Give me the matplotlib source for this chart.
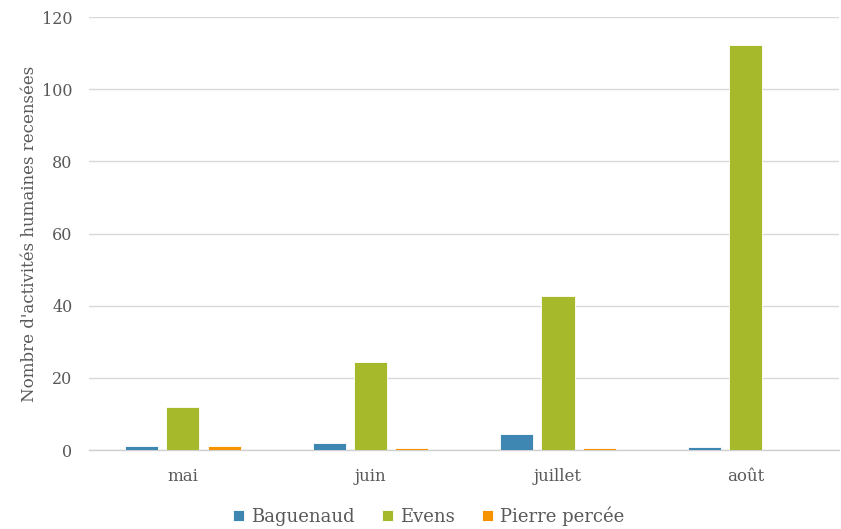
import matplotlib
matplotlib.use("Agg")
import matplotlib.pyplot as plt
import numpy as np

months = ["mai", "juin", "juillet", "août"]
baguenaud = [1.1, 1.9, 4.5, 0.9]
evens = [11.8, 24.5, 42.6, 112.2]
pierre_percee = [1.1, 0.5, 0.5, 0.0]

series = [
    ("Baguenaud", baguenaud, "#3E87B2"),
    ("Evens", evens, "#A6B92B"),
    ("Pierre percée", pierre_percee, "#F79300"),
]

plt.rcParams["font.family"] = ["DejaVu Serif"]
text_color = "#595959"

fig = plt.figure(figsize=(8.41, 5.29), dpi=100)
ax = fig.add_axes([0.106, 0.1493, 0.892, 0.8185])

x = np.arange(len(months))
width = 0.176
step = 0.221
for i, (name, vals, color) in enumerate(series):
    ax.bar(x + (i - 1) * step, vals, width, color=color, label=name,
           edgecolor="white", linewidth=0.6, zorder=3)

ax.set_xlim(-0.5, len(months) - 0.5)
ax.set_ylim(0, 120)
ax.set_yticks(np.arange(0, 121, 20))
ax.set_xticks(x)
ax.set_xticklabels(months)
ax.yaxis.grid(True, color="#D9D9D9", linewidth=1, zorder=0)
ax.set_axisbelow(True)
for s in ["top", "right", "left"]:
    ax.spines[s].set_visible(False)
ax.spines["bottom"].set_color("#D0D0D0")
ax.spines["bottom"].set_linewidth(1)
ax.tick_params(axis="both", length=0, colors=text_color, labelsize=11.5)
ax.tick_params(axis="x", labelsize=12, pad=13)
ax.tick_params(axis="y", pad=12)
ax.set_ylabel("Nombre d'activités humaines recensées", color=text_color,
              fontsize=12, labelpad=3)

leg = fig.legend(loc="lower center", bbox_to_anchor=(0.51, -0.025), ncol=3,
                 frameon=False, fontsize=13, handlelength=0.6, handleheight=0.6,
                 handletextpad=0.4, columnspacing=1.5)
for t in leg.get_texts():
    t.set_color(text_color)

fig.savefig("out.png", dpi=100)
